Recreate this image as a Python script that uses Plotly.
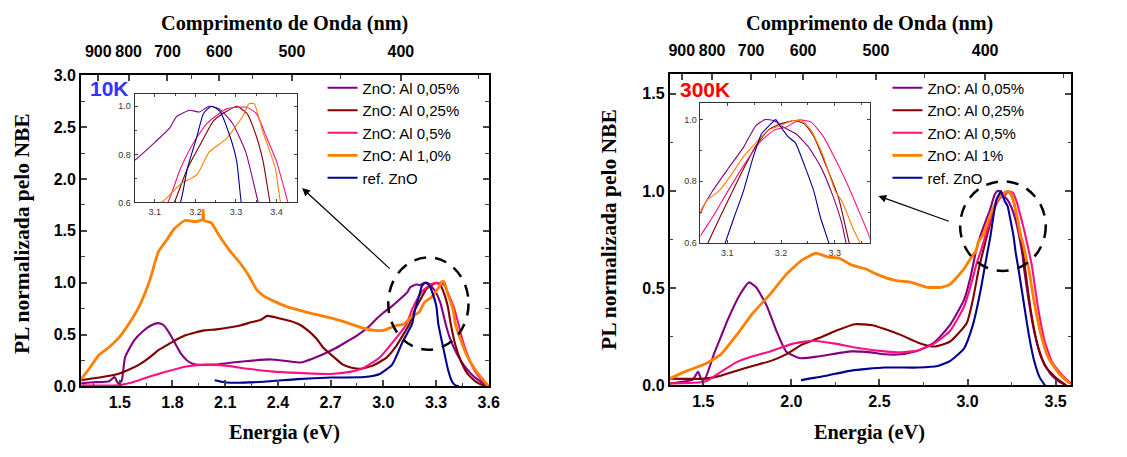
import plotly.graph_objects as go

# ---------------- DATA ----------------
# 10 K panel (energy in eV, PL normalised to NBE)
e_a005_10k = [1.28, 1.35, 1.44, 1.47, 1.49, 1.51, 1.53, 1.58, 1.63, 1.68, 1.72, 1.75, 1.78, 1.82, 1.85, 1.89, 1.93,
              2.04, 2.14, 2.23, 2.36, 2.45, 2.53, 2.60, 2.67, 2.73, 2.80, 2.85, 2.92, 2.96, 3.00, 3.051, 3.10, 3.137,
              3.153, 3.186, 3.21, 3.234, 3.258, 3.291, 3.324, 3.355, 3.38, 3.42, 3.46, 3.50, 3.55, 3.60]
v_a005_10k = [0.03, 0.04, 0.05, 0.09, 0.03, 0.05, 0.28, 0.44, 0.53, 0.59, 0.61, 0.59, 0.52, 0.40, 0.31, 0.24, 0.21,
              0.21, 0.23, 0.245, 0.26, 0.245, 0.23, 0.27, 0.32, 0.37, 0.44, 0.49, 0.58, 0.65, 0.71, 0.776, 0.85, 0.91,
              0.956, 0.983, 0.976, 1.0, 0.99, 0.93, 0.81, 0.60, 0.46, 0.31, 0.20, 0.12, 0.05, 0.0]

e_a025_10k = [1.28, 1.40, 1.49, 1.55, 1.61, 1.67, 1.72, 1.76, 1.80, 1.87, 1.93, 1.98, 2.05, 2.13, 2.19, 2.25, 2.30,
              2.34, 2.40, 2.47, 2.53, 2.57, 2.62, 2.66, 2.72, 2.77, 2.82, 2.87, 2.94, 3.02, 3.07, 3.11, 3.148, 3.18,
              3.215, 3.245, 3.278, 3.302, 3.327, 3.35, 3.367, 3.384, 3.41, 3.44, 3.48, 3.53, 3.58]
v_a025_10k = [0.06, 0.09, 0.12, 0.16, 0.21, 0.28, 0.35, 0.39, 0.43, 0.49, 0.52, 0.54, 0.55, 0.57, 0.59, 0.62, 0.64,
              0.68, 0.66, 0.63, 0.59, 0.54, 0.46, 0.37, 0.28, 0.21, 0.18, 0.17, 0.20, 0.28, 0.38, 0.49, 0.60, 0.74,
              0.85, 0.94, 0.98, 1.0, 0.97, 0.876, 0.77, 0.60, 0.40, 0.25, 0.12, 0.04, 0.0]

e_a05_10k = [1.28, 1.49, 1.55, 1.61, 1.68, 1.76, 1.87, 1.98, 2.10, 2.23, 2.36, 2.51, 2.70, 2.81, 2.89, 2.98, 3.07,
             3.132, 3.163, 3.196, 3.229, 3.278, 3.326, 3.35, 3.374, 3.40, 3.428, 3.45, 3.48, 3.52, 3.56, 3.60]
v_a05_10k = [0.01, 0.01, 0.03, 0.06, 0.10, 0.14, 0.19, 0.21, 0.20, 0.17, 0.145, 0.13, 0.12, 0.14, 0.18, 0.28, 0.46,
             0.60, 0.74, 0.85, 0.93, 0.99, 0.996, 0.97, 0.876, 0.77, 0.60, 0.45, 0.30, 0.15, 0.06, 0.0]

e_a10_10k = [1.28, 1.33, 1.38, 1.44, 1.49, 1.55, 1.61, 1.67, 1.72, 1.77, 1.81, 1.87, 1.93, 1.97, 1.975, 1.98, 2.02,
             2.06, 2.13, 2.18, 2.23, 2.28, 2.32, 2.38, 2.45, 2.51, 2.60, 2.70, 2.80, 2.89, 2.95, 3.00, 3.07, 3.116,
             3.163, 3.204, 3.234, 3.275, 3.316, 3.332, 3.345, 3.365, 3.397, 3.41, 3.44, 3.47, 3.50, 3.54, 3.58, 3.60]
v_a10_10k = [0.07, 0.18, 0.30, 0.38, 0.46, 0.60, 0.77, 1.02, 1.30, 1.42, 1.52, 1.60, 1.59, 1.61, 1.70, 1.60, 1.58,
             1.47, 1.30, 1.20, 1.08, 0.93, 0.87, 0.82, 0.77, 0.74, 0.70, 0.66, 0.61, 0.56, 0.54, 0.54, 0.585, 0.60,
             0.676, 0.716, 0.81, 0.863, 0.956, 1.01, 1.01, 0.90, 0.743, 0.60, 0.45, 0.32, 0.22, 0.12, 0.04, 0.0]

e_ref_10k = [2.04, 2.08, 2.13, 2.32, 2.51, 2.70, 2.89, 2.98, 3.05, 3.11, 3.163, 3.18, 3.204, 3.22, 3.24, 3.26, 3.285,
             3.302, 3.313, 3.34, 3.37, 3.39, 3.41, 3.43]
v_ref_10k = [0.06, 0.045, 0.035, 0.045, 0.07, 0.085, 0.09, 0.12, 0.21, 0.43, 0.60, 0.74, 0.876, 0.97, 1.0, 0.98, 0.876,
             0.77, 0.60, 0.38, 0.15, 0.05, 0.01, 0.0]

# 300 K panel
e_a005_300k = [1.31, 1.44, 1.47, 1.49, 1.51, 1.56, 1.60, 1.64, 1.71, 1.76, 1.80, 1.86, 1.92, 1.97, 2.05, 2.16, 2.34,
               2.45, 2.53, 2.62, 2.72, 2.81, 2.90, 2.98, 3.02, 3.05, 3.073, 3.101, 3.13, 3.153, 3.17, 3.187, 3.204,
               3.227, 3.25, 3.273, 3.295, 3.313, 3.321, 3.35, 3.38, 3.42, 3.47, 3.52, 3.56]
v_a005_300k = [0.01, 0.03, 0.07, 0.03, 0.035, 0.16, 0.25, 0.34, 0.47, 0.53, 0.505, 0.41, 0.27, 0.175, 0.14, 0.15, 0.175,
               0.17, 0.16, 0.16, 0.18, 0.22, 0.31, 0.44, 0.57, 0.70, 0.77, 0.84, 0.91, 0.98, 1.0, 0.997, 0.976,
               0.955, 0.914, 0.85, 0.76, 0.665, 0.60, 0.42, 0.27, 0.14, 0.06, 0.02, 0.0]

e_a025_300k = [1.31, 1.51, 1.60, 1.69, 1.78, 1.88, 1.97, 2.06, 2.16, 2.25, 2.36, 2.46, 2.53, 2.62, 2.72, 2.81, 2.90,
               2.995, 3.03, 3.064, 3.084, 3.107, 3.13, 3.153, 3.176, 3.198, 3.227, 3.244, 3.261, 3.284, 3.307, 3.327,
               3.36, 3.40, 3.44, 3.50, 3.56]
v_a025_300k = [0.035, 0.035, 0.05, 0.076, 0.10, 0.125, 0.16, 0.21, 0.245, 0.28, 0.315, 0.31, 0.29, 0.26, 0.22, 0.20,
               0.225, 0.32, 0.44, 0.60, 0.675, 0.758, 0.84, 0.914, 0.966, 0.986, 0.997, 0.986, 0.945, 0.85, 0.747,
               0.60, 0.38, 0.20, 0.10, 0.04, 0.0]

e_a05_300k = [1.31, 1.51, 1.60, 1.69, 1.78, 1.88, 2.01, 2.12, 2.25, 2.36, 2.53, 2.62, 2.72, 2.81, 2.90, 2.98, 3.02,
              3.05, 3.073, 3.101, 3.13, 3.159, 3.187, 3.21, 3.233, 3.256, 3.279, 3.301, 3.324, 3.347, 3.364, 3.40,
              3.44, 3.48, 3.54, 3.60]
v_a05_300k = [0.01, 0.02, 0.07, 0.12, 0.15, 0.175, 0.215, 0.23, 0.215, 0.195, 0.175, 0.17, 0.18, 0.215, 0.28, 0.405,
              0.52, 0.623, 0.685, 0.768, 0.85, 0.924, 0.966, 0.976, 0.999, 0.992, 0.945, 0.872, 0.789, 0.695, 0.623,
              0.40, 0.22, 0.12, 0.05, 0.0]

e_a1_300k = [1.31, 1.41, 1.51, 1.60, 1.69, 1.78, 1.88, 1.97, 2.06, 2.14, 2.21, 2.27, 2.34, 2.42, 2.49, 2.59, 2.68,
             2.77, 2.85, 2.90, 2.98, 3.03, 3.05, 3.061, 3.084, 3.107, 3.13, 3.153, 3.176, 3.198, 3.221, 3.238, 3.256,
             3.279, 3.301, 3.313, 3.335, 3.347, 3.38, 3.42, 3.46, 3.52, 3.58]
v_a1_300k = [0.035, 0.076, 0.11, 0.16, 0.26, 0.37, 0.47, 0.57, 0.645, 0.68, 0.66, 0.655, 0.62, 0.60, 0.57, 0.54, 0.53,
             0.505, 0.505, 0.52, 0.60, 0.67, 0.695, 0.737, 0.768, 0.82, 0.88, 0.924, 0.966, 0.98, 0.997, 0.997, 0.966,
             0.88, 0.768, 0.737, 0.643, 0.60, 0.42, 0.25, 0.14, 0.06, 0.01]

e_ref_300k = [2.055, 2.10, 2.16, 2.25, 2.34, 2.43, 2.53, 2.62, 2.72, 2.83, 2.90, 2.98, 3.03, 3.07, 3.096, 3.113, 3.13,
              3.147, 3.164, 3.181, 3.19, 3.198, 3.213, 3.227, 3.244, 3.261, 3.273, 3.289, 3.32, 3.35, 3.38, 3.41, 3.44]
v_ref_300k = [0.026, 0.035, 0.043, 0.06, 0.076, 0.085, 0.092, 0.092, 0.092, 0.10, 0.125, 0.19, 0.31, 0.47, 0.60, 0.685,
              0.768, 0.872, 0.955, 0.986, 1.0, 0.98, 0.945, 0.924, 0.85, 0.768, 0.685, 0.60, 0.42, 0.25, 0.12, 0.04, 0.0]

names_10k = ["ZnO: Al 0,05%", "ZnO: Al 0,25%", "ZnO: Al 0,5%", "ZnO: Al 1,0%", "ref. ZnO"]
names_300k = ["ZnO: Al 0,05%", "ZnO: Al 0,25%", "ZnO: Al 0,5%", "ZnO: Al 1%", "ref. ZnO"]
colors = ["#800080", "#800000", "#ff0f80", "#ff8000", "#000090"]

wl_major = [900, 800, 700, 600, 500, 400]
wl_minor = [650, 550, 450, 350]

left_x_ticks = [1.5, 1.8, 2.1, 2.4, 2.7, 3.0, 3.3, 3.6]
left_y_ticks = [0.0, 0.5, 1.0, 1.5, 2.0, 2.5, 3.0]
right_x_ticks = [1.5, 2.0, 2.5, 3.0, 3.5]
right_y_ticks = [0.0, 0.5, 1.0, 1.5]

L_rng_x = [1.28, 3.6]
R_rng_x = [1.31, 3.59]

# ---------------- FIGURE ----------------
W, H = 1127, 457
def px(x):
    return x / W
def py(y):
    return (H - y) / H

series_10k = [(e_a005_10k, v_a005_10k), (e_a025_10k, v_a025_10k), (e_a05_10k, v_a05_10k),
              (e_a10_10k, v_a10_10k), (e_ref_10k, v_ref_10k)]
series_300k = [(e_a005_300k, v_a005_300k), (e_a025_300k, v_a025_300k), (e_a05_300k, v_a05_300k),
               (e_a1_300k, v_a1_300k), (e_ref_300k, v_ref_300k)]

fig = go.Figure()
for legend_name, series, names, xa, ya, xi, yi, xt, rng in [
        ("legend", series_10k, names_10k, "x", "y", "x3", "y3", "x2", L_rng_x),
        ("legend2", series_300k, names_300k, "x4", "y4", "x6", "y6", "x5", R_rng_x)]:
    for i in range(5):
        e, v = series[i]
        w = 2.8 if i == 3 else 2.1
        fig.add_trace(go.Scatter(x=e, y=v, mode="lines", name=names[i], legend=legend_name,
                                 line=dict(color=colors[i], width=w, shape="spline", smoothing=0.5),
                                 xaxis=xa, yaxis=ya, legendrank=i + 1))
    for i in range(5):
        e, v = series[i]
        fig.add_trace(go.Scatter(x=e, y=v, mode="lines", showlegend=False,
                                 line=dict(color=colors[i], width=1.1, shape="spline", smoothing=0.5),
                                 xaxis=xi, yaxis=yi))
    # carrier trace so the top (wavelength) axis is drawn; it has no visible points
    fig.add_trace(go.Scatter(x=rng, y=[None, None], mode="lines", showlegend=False, hoverinfo="skip",
                             xaxis=xt, yaxis=ya))

tickfont = dict(family="Liberation Sans, Arial, sans-serif", size=16, color="black", weight="bold")
insetfont = dict(family="Liberation Sans, Arial, sans-serif", size=9, color="#333333")

def main_x(dom, rng, ticks, dminor, anchor):
    return dict(domain=dom, range=rng, anchor=anchor, tickvals=ticks, ticktext=[f"{t:.1f}" for t in ticks],
                ticks="inside", ticklen=6, tickwidth=1.5, showline=True, linewidth=2, linecolor="black",
                showgrid=False, zeroline=False, tickfont=tickfont,
                minor=dict(dtick=dminor, tick0=ticks[0], ticks="inside", ticklen=3.5, tickwidth=1.2))

def main_y(dom, rng, ticks, anchor):
    return dict(domain=dom, range=rng, anchor=anchor, tickvals=ticks, ticktext=[f"{t:.1f}" for t in ticks],
                ticks="inside", ticklen=6, tickwidth=1.5, showline=True, linewidth=2, linecolor="black",
                mirror="ticks", showgrid=False, zeroline=False, tickfont=tickfont,
                minor=dict(dtick=0.25, tick0=0, ticks="inside", ticklen=3.5, tickwidth=1.2))

def top_x(over, rng, anchor):
    return dict(overlaying=over, side="top", range=rng, anchor=anchor,
                tickvals=[1240.0 / w for w in wl_major], ticktext=[str(w) for w in wl_major],
                ticks="inside", ticklen=6, tickwidth=1.5, showline=True, linewidth=2, linecolor="black",
                showgrid=False, zeroline=False, tickfont=tickfont, ticklabelstandoff=10,
                minor=dict(tickvals=[1240.0 / w for w in wl_minor], ticks="inside", ticklen=3.5, tickwidth=1.2))

def inset_x(dom, rng, anchor):
    return dict(domain=dom, range=rng, anchor=anchor, dtick=0.1, tick0=3.0, tickformat=".1f",
                ticks="inside", ticklen=3, tickwidth=1, showline=True, linewidth=1, linecolor="#333333",
                mirror="ticks", showgrid=False, zeroline=False, tickfont=insetfont,
                minor=dict(dtick=0.05, ticks="inside", ticklen=2), ticklabelstandoff=1)

def inset_y(dom, rng, anchor):
    return dict(domain=dom, range=rng, anchor=anchor, tickvals=[0.6, 0.8, 1.0], tickformat=".1f",
                ticks="inside", ticklen=3, tickwidth=1, showline=True, linewidth=1, linecolor="#333333",
                mirror="ticks", showgrid=False, zeroline=False, tickfont=insetfont,
                minor=dict(dtick=0.1, tick0=0.6, ticks="inside", ticklen=2), ticklabelstandoff=1)

L_dom_x = [px(81), px(493)]
L_dom_y = [py(393), py(70)]
R_dom_x = [px(676), px(1082)]
R_dom_y = [py(392), py(69)]

legfont = dict(family="Liberation Sans, Arial, sans-serif", size=15, color="black")
fig.update_layout(
    width=W, height=H, margin=dict(l=0, r=0, t=0, b=0),
    paper_bgcolor="white", plot_bgcolor="white", showlegend=True,
    xaxis=main_x(L_dom_x, L_rng_x, left_x_ticks, 0.15, "y"),
    yaxis=main_y(L_dom_y, [0, 3.0], left_y_ticks, "x"),
    xaxis2=top_x("x", L_rng_x, "y"),
    xaxis3=inset_x([px(135), px(299)], [3.05, 3.45], "y3"),
    yaxis3=inset_y([py(202), py(89)], [0.6, 1.052], "x3"),
    xaxis4=main_x(R_dom_x, R_rng_x, right_x_ticks, 0.25, "y4"),
    yaxis4=main_y(R_dom_y, [0, 1.6], right_y_ticks, "x4"),
    xaxis5=top_x("x4", R_rng_x, "y4"),
    xaxis6=inset_x([px(707), px(878)], [3.05, 3.365], "y6"),
    yaxis6=inset_y([py(244), py(99)], [0.6, 1.053], "x6"),
    legend=dict(x=px(325), y=py(66), xanchor="left", yanchor="top", bgcolor="rgba(0,0,0,0)",
                font=legfont, tracegroupgap=0, itemwidth=30),
    legend2=dict(x=px(896), y=py(66), xanchor="left", yanchor="top", bgcolor="rgba(0,0,0,0)",
                 font=legfont, tracegroupgap=0, itemwidth=30),
)

# dashed ellipses
fig.add_shape(type="circle", xref="x", yref="y", x0=3.028, x1=3.485, y0=0.353, y1=1.244,
              line=dict(color="black", width=2.5, dash="12px,9px"))
fig.add_shape(type="circle", xref="x4", yref="y4", x0=2.958, x1=3.444, y0=0.589, y1=1.05,
              line=dict(color="black", width=2.5, dash="12px,9px"))

# arrows
fig.add_annotation(x=2.538, y=1.913, ax=3.045, ay=1.123, xref="x", yref="y", axref="x", ayref="y",
                   showarrow=True, arrowhead=2, arrowsize=1.3, arrowwidth=1.2, arrowcolor="black", text="")
fig.add_annotation(x=2.494, y=0.975, ax=2.902, ay=0.842, xref="x4", yref="y4", axref="x4", ayref="y4",
                   showarrow=True, arrowhead=2, arrowsize=1.3, arrowwidth=1.2, arrowcolor="black", text="")

serif = "Liberation Serif, Times New Roman, Times, serif"
titlefont = dict(family=serif, size=20.3, color="black")
ytitlefont = dict(family=serif, size=21.5, color="black")
for cx in (287, 878):
    fig.add_annotation(text="<b>Comprimento de Onda (nm)</b>", x=px(cx), y=py(16), xref="paper", yref="paper",
                       showarrow=False, font=titlefont, xanchor="center", yanchor="middle")
    fig.add_annotation(text="<b>Energia (eV)</b>", x=px(cx), y=py(441), xref="paper", yref="paper",
                       showarrow=False, font=titlefont, xanchor="center", yanchor="middle")
for cx, cy in ((22, 234), (615, 230)):
    fig.add_annotation(text="<b>PL normalizada pelo NBE</b>", x=px(cx), y=py(cy), xref="paper", yref="paper",
                       showarrow=False, font=ytitlefont, textangle=-90, xanchor="center", yanchor="middle")

fig.add_annotation(text="<b>10K</b>", x=px(88), y=py(84), xref="paper", yref="paper", showarrow=False,
                   font=dict(family="Liberation Sans, Arial, sans-serif", size=21, color="#3333ff"),
                   xanchor="left", yanchor="middle")
fig.add_annotation(text="<b>300K</b>", x=px(684), y=py(85), xref="paper", yref="paper", showarrow=False,
                   font=dict(family="Liberation Sans, Arial, sans-serif", size=21, color="#ff0000"),
                   xanchor="left", yanchor="middle")

fig.write_html("out.html")
